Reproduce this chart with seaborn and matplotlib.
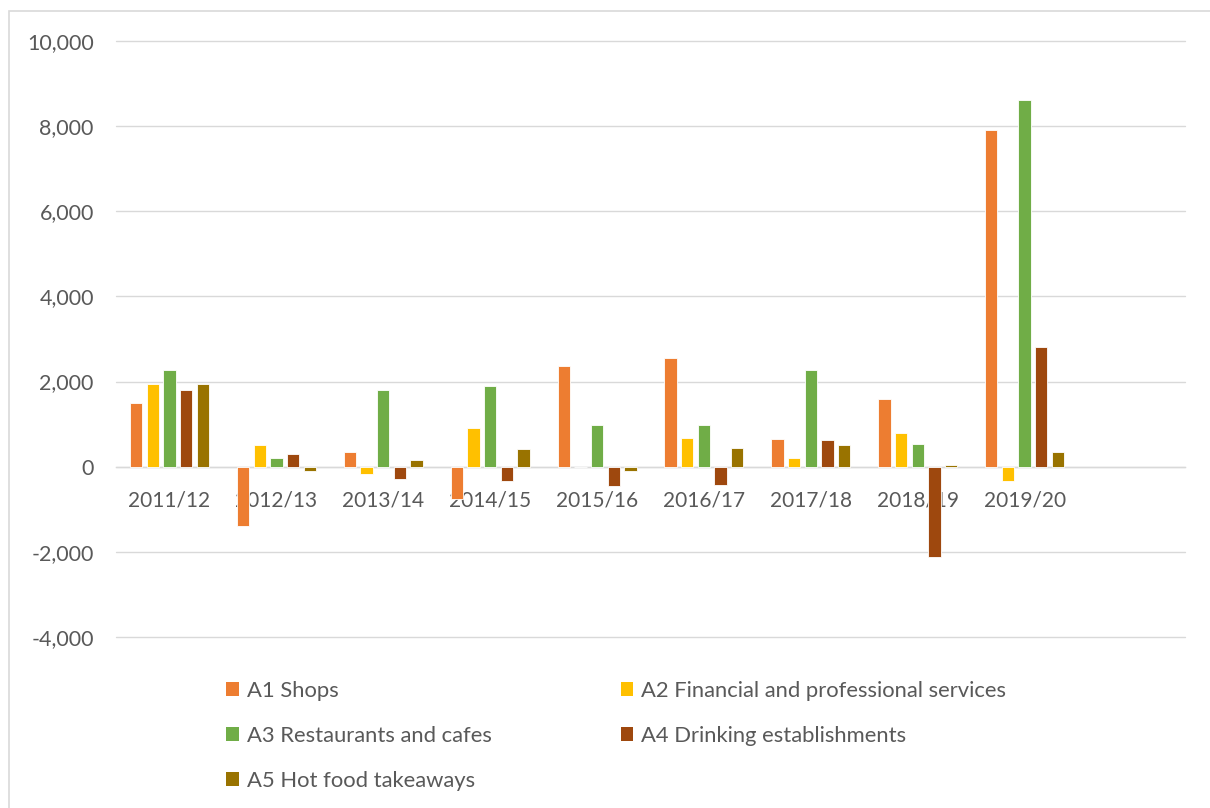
import numpy as np
import pandas as pd
import matplotlib
matplotlib.use("Agg")
import matplotlib.pyplot as plt
from matplotlib.patches import Patch, Rectangle
import seaborn as sns

years = ["2011/12", "2012/13", "2013/14", "2014/15", "2015/16",
         "2016/17", "2017/18", "2018/19", "2019/20"]
series = ["A1 Shops", "A2 Financial and professional services",
          "A3 Restaurants and cafes", "A4 Drinking establishments",
          "A5 Hot food takeaways"]
a1_shops = [1500, -1400, 350, -750, 2370, 2550, 650, 1580, 7900]
a2_financial = [1950, 500, -180, 900, 0, 680, 200, 800, -330]
a3_restaurants = [2270, 200, 1800, 1900, 980, 980, 2270, 530, 8620]
a4_drinking = [1800, 300, -300, -330, -450, -430, 620, -2130, 2810]
a5_takeaways = [1950, -100, 150, 420, -90, 440, 500, 50, 350]
colors = ["#ED7D31", "#FFC000", "#70AD47", "#9E480E", "#997300"]

values = [a1_shops, a2_financial, a3_restaurants, a4_drinking, a5_takeaways]
rows = []
for s, vals in zip(series, values):
    for y, v in zip(years, vals):
        rows.append({"year": y, "series": s, "value": v})
df = pd.DataFrame(rows)

sns.set_theme(style="white")
plt.rcParams["font.family"] = ["Lato", "DejaVu Sans"]
text_color = "#595959"
grid_color = "#D9D9D9"
fs = 15
fs_leg = 15.8

fig = plt.figure(figsize=(12.1, 8.08), dpi=100)
ax = fig.add_axes([116 / 1210, 1 - 637 / 808, (1185 - 116) / 1210, (637 - 41) / 808])

order = years + [""]
sns.barplot(data=df, x="year", y="value", hue="series", order=order,
            hue_order=series, palette=colors, saturation=1, width=0.78, gap=0.26,
            edgecolor="white", linewidth=0.6, errorbar=None, legend=False, ax=ax)

ax.set_xlim(-0.5, len(order) - 0.5)
ax.set_ylim(-4000, 10000)
ax.set_yticks(np.arange(-4000, 10001, 2000))
ax.yaxis.set_major_formatter(matplotlib.ticker.FuncFormatter(lambda v, p: f"{int(v):,}"))
ax.grid(axis="y", color=grid_color, linewidth=1.0)
for gl in ax.get_ygridlines():
    gl.set_clip_on(False)
ax.set_axisbelow(True)
for sp in ["left", "right", "top"]:
    ax.spines[sp].set_visible(False)
ax.spines["bottom"].set_position(("data", 0))
ax.spines["bottom"].set_color(grid_color)
ax.spines["bottom"].set_linewidth(1.0)
ax.spines["bottom"].set_zorder(0.5)
ax.tick_params(axis="x", length=0, pad=17, labelsize=fs, labelcolor=text_color)
ax.tick_params(axis="y", length=0, pad=16, labelsize=15.5, labelcolor=text_color)
ax.set_xlabel("")
ax.set_ylabel("")

handles = [Patch(facecolor=c, edgecolor="none", label=s) for c, s in zip(colors, series)]
idx = [0, 2, 4, 1, 3]
leg = fig.legend([handles[i] for i in idx], [series[i] for i in idx],
                 ncol=2, loc="upper left", bbox_to_anchor=(226 / 1210, 1 - 681 / 808),
                 frameon=False, fontsize=fs_leg, labelcolor=text_color,
                 handlelength=0.57, handleheight=0.57, handletextpad=0.38,
                 labelspacing=1.13, columnspacing=5.87, borderaxespad=0, borderpad=0)

fig.add_artist(Rectangle((9 / 1210, -0.05), 1.1, 1.05 - 11 / 808,
                         transform=fig.transFigure, fill=False,
                         edgecolor=grid_color, linewidth=1.2))

fig.savefig("out.png", dpi=100)
